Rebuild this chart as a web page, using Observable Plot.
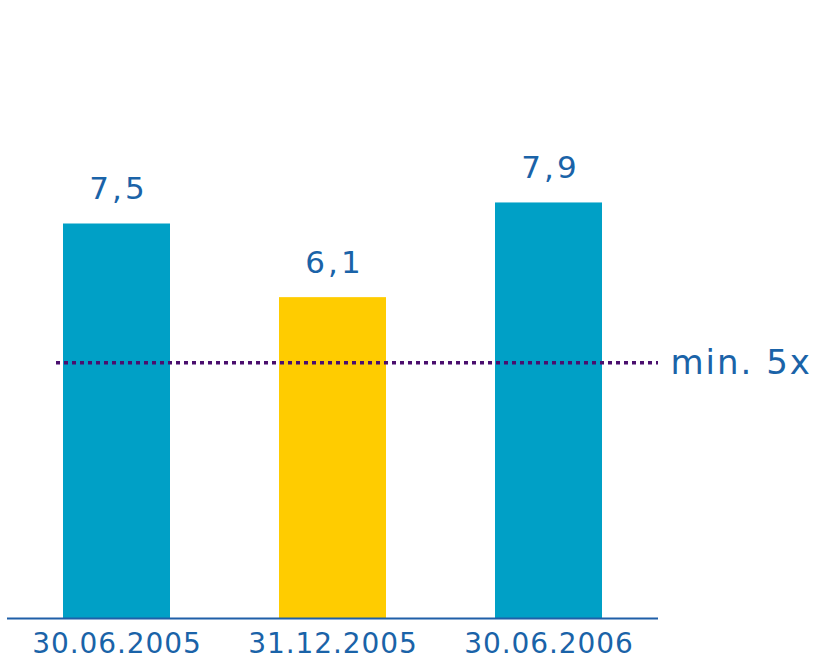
<!DOCTYPE html>
<html>
<head>
<meta charset="utf-8">
<script src="https://cdn.jsdelivr.net/npm/d3@7"></script>
<script src="https://cdn.jsdelivr.net/npm/@observablehq/plot@0.6"></script>
<style>
  html, body { margin: 0; padding: 0; background: #fff; }
  svg { display: block; }
</style>
</head>
<body>
<div id="chart"></div>
<script>
const categories = ["30.06.2005", "31.12.2005", "30.06.2006"];
const values = [7.5, 6.1, 7.9];
const valueLabels = ["7,5", "6,1", "7,9"];
const barColors = ["#00A0C6", "#FFCC00", "#00A0C6"];
const threshold = [4.86];
const thresholdLabel = ["min. 5x"];

const data = categories.map((c, i) => ({category: c, value: values[i], label: valueLabels[i], color: barColors[i]}));
const textColor = "#1A63A8";

const chart = Plot.plot({
  width: 815,
  height: 660,
  marginTop: 0,
  marginBottom: 42,
  marginLeft: 7,
  marginRight: 157,
  style: {fontFamily: "DejaVu Sans, Verdana, sans-serif", background: "#fff", overflow: "visible"},
  x: {domain: categories, paddingInner: 0.506, paddingOuter: 0.2565, label: null},
  y: {domain: [0, 618 / 52.6], axis: null},
  marks: [
    Plot.barY(data, {x: "category", y: "value", fill: "color"}),
    Plot.ruleY([0], {stroke: "#1F5FA8", strokeWidth: 2}),
    Plot.ruleY(threshold, {stroke: "#4A0F6E", strokeWidth: 3.5, strokeDasharray: "4 4", insetLeft: 49}),
    Plot.text(thresholdLabel, {y: threshold, text: d => d, frameAnchor: "right", textAnchor: "start", lineAnchor: "middle", dx: 12, fontSize: 34, fill: textColor}),
    Plot.text(data, {x: "category", y: "value", text: "label", dy: -25, dx: 1.5, lineAnchor: "bottom", fontSize: 31, fill: textColor}),
    Plot.axisX({tickSize: 0, tickPadding: 15, fontSize: 28, color: textColor, label: null})
  ]
});
chart.querySelectorAll("text").forEach(t => {
  const s = t.textContent;
  if (categories.includes(s)) t.setAttribute("letter-spacing", "0.9px");
  else if (valueLabels.includes(s)) t.setAttribute("letter-spacing", "3px");
  else if (thresholdLabel.includes(s)) t.setAttribute("letter-spacing", "2px");
});
document.getElementById("chart").appendChild(chart);
</script>
</body>
</html>
